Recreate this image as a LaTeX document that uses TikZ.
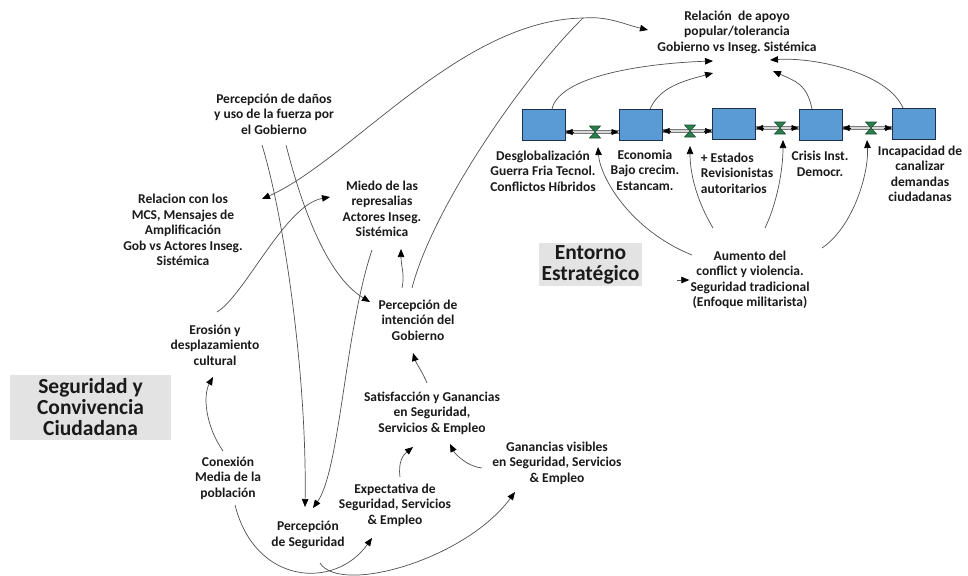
\documentclass[tikz,border=0pt]{standalone}
\usepackage{fontspec}
\setmainfont{Carlito}
\usetikzlibrary{arrows.meta}
\definecolor{txt}{HTML}{1A1A1A}
\definecolor{ln}{HTML}{505050}
\definecolor{boxblue}{HTML}{5B9BD5}
\definecolor{boxedge}{HTML}{1F2F4F}
\definecolor{valvegreen}{HTML}{2E7D4F}
\definecolor{valveedge}{HTML}{14502E}
\definecolor{tagfill}{HTML}{E3E3E3}
\definecolor{pipeedge}{HTML}{7A7A7A}
\definecolor{pipeinner}{HTML}{D8D8D8}
\frenchspacing

\begin{document}
\begin{tikzpicture}[x=1pt,y=-1pt,
  lbl/.style={align=center,font=\fontsize{13.5}{15.5}\selectfont\bfseries,text=txt,inner sep=1pt},
  tag/.style={fill=tagfill,align=center,font=\fontsize{21.5}{21}\selectfont\bfseries,text=txt,inner sep=0pt},
  stock/.style={draw=boxedge,line width=1pt,fill=boxblue,minimum width=43pt,minimum height=31pt,inner sep=0pt},
  wire/.style={draw=ln,line width=0.7pt},
  link/.style={wire,-{Triangle[length=8pt,width=6.5pt,color=black]}},
  pipe/.style={draw=pipeedge,double=pipeinner,double distance=1.8pt,line width=0.7pt},
  pipehead/.style={draw=black,line width=0.5pt,-{Triangle[length=7pt,width=6pt,color=black]}},
  valve/.pic={\draw[valveedge,fill=valvegreen,line width=0.6pt,line join=miter]
      (-5.5,-6) -- (5.5,-6) -- (-5.5,6) -- (5.5,6) -- cycle;}
]
\useasboundingbox (0,0) rectangle (968,575);
\fill[white] (0,0) rectangle (968,575);

% ---- text variables ----
\node[lbl] (rel) at (737,32) {Relación~ de apoyo\\popular/tolerancia\\Gobierno vs Inseg. Sistémica};
\node[lbl] (danos) at (274,114) {Percepción de daños\\y uso de la fuerza por\\el Gobierno};
\node[lbl] (mcs) at (183,230) {Relacion con los\\MCS, Mensajes de\\Amplificación\\Gob vs Actores Inseg.\\Sistémica};
\node[lbl] (miedo) at (382,209) {Miedo de las\\represalias\\Actores Inseg.\\Sistémica};
\node[lbl] (intencion) at (418,320) {Percepción de\\intención del\\Gobierno};
\node[lbl] (erosion) at (215,345) {Erosión y\\desplazamiento\\cultural};
\node[lbl] (satisf) at (432,413) {Satisfacción y Ganancias\\en Seguridad,\\Servicios \& Empleo};
\node[lbl] (ganvis) at (557,463) {Ganancias visibles\\en Seguridad, Servicios\\\& Empleo};
\node[lbl] (expect) at (395,505) {Expectativa de\\Seguridad, Servicios\\\& Empleo};
\node[lbl] (conex) at (228,478) {Conexión\\Media de la\\población};
\node[lbl] (percseg) at (308,535) {Percepción\\de Seguridad};
\node[lbl] (aumento) at (750,280) {Aumento del\\conflict y violencia.\\Seguridad tradicional\\(Enfoque militarista)};

% ---- section tags ----
\node[tag,minimum width=161pt,minimum height=65pt] (segbox) at (90.5,407.5) {Seguridad y\\Convivencia\\Ciudadana};
\node[tag,minimum width=103pt,minimum height=43pt] (entbox) at (590.5,264.5) {Entorno\\Estratégico};

% ---- stocks of the strategic environment ----
\node[stock] (b1) at (543.5,125) {};
\node[stock] (b2) at (640.5,125) {};
\node[stock] (b3) at (734,124) {};
\node[stock] (b4) at (820.5,125) {};
\node[stock] (b5) at (914,124) {};

\node[lbl] (l1) at (543,171) {Desglobalización\\Guerra Fria Tecnol.\\Conflictos Híbridos};
\node[lbl] (l2) at (645,170) {Economia\\Bajo crecim.\\Estancam.};
\node[lbl,align=left] (l3) at (737,173) {+ Estados\\Revisionistas\\autoritarios};
\node[lbl] (l4) at (820,164) {Crisis Inst.\\Democr.};
\node[lbl] (l5) at (920,174) {Incapacidad de\\canalizar\\demandas\\ciudadanas};

% ---- flows between stocks ----
\coordinate (v1) at (595,132);
\coordinate (v2) at (690,131);
\coordinate (v3) at (780,128);
\coordinate (v4) at (871,128);
\coordinate (p1a) at (b1.east |- v1); \coordinate (p1b) at (b2.west |- v1);
\coordinate (p2a) at (b2.east |- v2); \coordinate (p2b) at (b3.west |- v2);
\coordinate (p3a) at (b3.east |- v3); \coordinate (p3b) at (b4.west |- v3);
\coordinate (p4a) at (b4.east |- v4); \coordinate (p4b) at (b5.west |- v4);
\foreach \a/\b in {p1a/p1b,p2a/p2b,p3a/p3b,p4a/p4b}{
  \draw[pipe] (\a) -- (\b);
  \draw[pipehead] ([xshift=8pt]\a) -- (\a);
  \draw[pipehead] ([xshift=-8pt]\b) -- (\b);
}
\foreach \v in {v1,v2,v3,v4}{ \pic at (\v) {valve}; }

% ---- stocks feeding the support relation ----
\draw[link] ([shift={(8.5,-16)}]b1.center) .. controls +(8,-35) and +(-60,2) .. ([shift={(-24,29)}]rel.center);
\draw[link] ([shift={(9.5,-16)}]b2.center) .. controls +(10,-22) and +(-30,8) .. ([shift={(-24,41)}]rel.center);
\draw[link] ([shift={(-8.5,-16)}]b4.center) .. controls +(-5,-25) and +(22,10) .. ([shift={(36,39)}]rel.center);
\draw[link] ([shift={(-11,-16)}]b5.center) .. controls +(-15,-35) and +(45,-3) .. ([shift={(33,28)}]rel.center);

% ---- conflict driving the flows ----
\draw[link] ([shift={(-58,-25)}]aumento.center) .. controls +(-62,-25) and +(2,30) .. ([shift={(3,15)}]v1);
\draw[link] ([shift={(-37,-52)}]aumento.center) .. controls +(-15,-25) and +(0,30) .. ([shift={(0,15)}]v2);
\draw[link] ([shift={(15,-52)}]aumento.center) .. controls +(12,-25) and +(0,30) .. ([shift={(3,12)}]v3);
\draw[link] ([shift={(72,-32)}]aumento.center) .. controls +(30,-20) and +(2,35) .. ([shift={(-4,12)}]v4);
\draw[link,shorten <=35pt] (aumento.west -| entbox.east) -- (aumento.west);

% ---- citizen security loop ----
\coordinate (J) at (583,18);
\draw[wire] ([shift={(-6,-32)}]intencion.center) .. controls +(20,-78) and +(-63,62) .. (J);
\draw[link] (J) .. controls +(25,-2) and +(-25,-6) .. ([shift={(-89,-2)}]rel.center);
\draw[link] (J) .. controls +(-123,2) and +(88,-39) .. ([shift={(79,-31)}]mcs.center);
\draw[link] ([shift={(-12,31)}]danos.center) .. controls +(23,75) and +(2,-127) .. ([shift={(-3,-28)}]percseg.center);
\draw[link] ([shift={(12,31)}]danos.center) .. controls +(14,55) and +(-45,-27) .. ([shift={(-48,-18)}]intencion.center);
\draw[link] ([shift={(2,-33)}]erosion.center) .. controls +(28,-17) and +(-45,8) .. ([shift={(-52,-12)}]miedo.center);
\draw[link] ([shift={(-10,41)}]miedo.center) .. controls +(-27,80) and +(27,-38) .. ([shift={(5,-27)}]percseg.center);
\draw[link] ([shift={(-16,-32)}]intencion.center) .. controls +(3,-14) and +(0,18) .. ([shift={(19,40)}]miedo.center);
\draw[link] ([shift={(-5,-30)}]satisf.center) .. controls +(-5,-12) and +(3,10) .. ([shift={(-5,33)}]intencion.center);
\draw[link] ([shift={(-75,5)}]ganvis.center) .. controls +(-14,-1) and +(5,10) .. ([shift={(18,31)}]satisf.center);
\draw[link] ([shift={(5,-28)}]expect.center) .. controls +(-2,-15) and +(-10,8) .. ([shift={(-19,34)}]satisf.center);
\draw[link] ([shift={(-5,-27)}]conex.center) .. controls +(-18,-26) and +(-10,18) .. ([shift={(-2,32)}]erosion.center);
\draw[link] ([shift={(7,27)}]conex.center) .. controls +(20,80) and +(-37,52) .. ([shift={(-23,33)}]expect.center);
\draw[link] ([shift={(12,28)}]percseg.center) .. controls +(20,32) and +(-50,68) .. ([shift={(-42,29)}]ganvis.center);
\end{tikzpicture}
\end{document}
